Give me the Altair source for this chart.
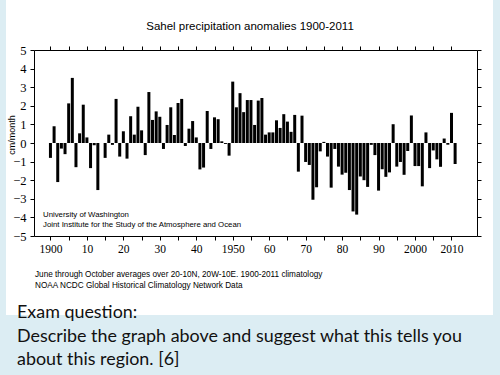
import altair as alt
import pandas as pd

years = list(range(1900, 2012))
anomalies = [
    -0.8, 0.9, -2.1, -0.3, -0.6, 2.13, 3.5, -1.3, 0.52, 2.06,
    0.3, -1.35, -0.12, -2.53, 0.0, -0.8, 0.45, -0.1, 2.37, -0.73,
    0.63, -0.84, 1.44, 0.45, 1.95, 0.68, -0.65, 2.74, 1.24, 1.7,
    1.41, -0.32, 0.97, 1.92, 0.43, 2.15, 2.37, -0.16, 0.77, 1.18,
    0.3, -1.42, -1.32, 1.72, -0.32, 1.38, 1.28, 0.09, -0.05, -0.68,
    3.3, 1.92, 2.68, 1.66, 2.31, 2.31, 0.97, 2.28, 2.42, 0.45,
    0.57, 0.57, 1.22, 0.81, 1.55, 1.15, 0.6, 1.51, -1.54, 1.47,
    -1.02, -1.18, -3.05, -2.38, -0.45, 0.06, -0.73, -2.4, -0.32, -1.27,
    -1.7, -1.6, -2.53, -3.68, -3.85, -1.8, -2.0, -2.36, -0.1, -0.65,
    -2.56, -1.41, -1.82, -1.58, 1.01, -1.27, -1.02, -1.71, -0.43, 1.48,
    -1.24, -1.24, -2.33, 0.57, -1.35, -0.4, -0.88, -1.28, 0.24, -0.09,
    1.62, -1.13,
]
x_ticks = list(range(1900, 2011, 5))
y_ticks = list(range(-5, 6))

title_text = "Sahel precipitation anomalies 1900-2011"
inner_notes = ["University of Washington",
               "Joint Institute for the Study of the Atmosphere and Ocean"]
footer_notes = ["June through October averages over 20-10N, 20W-10E. 1900-2011 climatology",
                "NOAA NCDC Global Historical Climatology Network Data"]
y_title = "cm/month"
exam_lines = ["Exam question:",
              "Describe the graph above and suggest what this tells you",
              "about this region. [6]"]

df = pd.DataFrame({"year": years, "anomaly": anomalies})

W, H = 443, 186
SERIF = "Liberation Serif"
SANS = "Liberation Sans"

xscale = alt.Scale(domain=[1896.86, 2015.63], nice=False, zero=False)
yscale = alt.Scale(domain=[-5, 5], nice=False)

label_expr = ("datum.value % 10 != 0 ? '' : (datum.value == 1900 || datum.value == 1950 || "
              "datum.value >= 2000 ? toString(datum.value) : toString(datum.value % 100))")

common = dict(grid=False, tickSize=4, domainColor="black", tickColor="black",
              domainWidth=1, tickWidth=1, zindex=1, title=None)

bars = alt.Chart(df).mark_bar(color="black", size=3).encode(
    x=alt.X("year:Q", scale=xscale,
            axis=alt.Axis(orient="bottom", values=x_ticks, labelExpr=label_expr,
                          labelPadding=3, labelFont=SERIF, labelFontSize=11.5,
                          labelColor="black", labelFlush=False, **common)),
    y=alt.Y("anomaly:Q", scale=yscale,
            axis=alt.Axis(orient="left", values=y_ticks, labelPadding=4,
                          labelFont=SERIF, labelFontSize=12.5, labelColor="black",
                          **common)),
)

frame_axes = alt.Chart(df).mark_bar(opacity=0, size=3).encode(
    x=alt.X("year:Q", scale=xscale,
            axis=alt.Axis(orient="top", values=x_ticks, labels=False, **common)),
    y=alt.Y("anomaly:Q", scale=yscale,
            axis=alt.Axis(orient="right", values=y_ticks, labels=False, **common)),
)

one = alt.Data(values=[{"a": 1}])

white_box = alt.Chart(one).mark_rect(color="white").encode(
    x=alt.value(-28), x2=alt.value(459), y=alt.value(-50), y2=alt.value(265)
)


def txt(text, x, y, size, font, align="left", baseline="middle", angle=0, color="black"):
    kw = dict(text=text, font=font, fontSize=size, align=align, baseline=baseline, color=color)
    if angle:
        kw["angle"] = angle
    return alt.Chart(one).mark_text(**kw).encode(x=alt.value(x), y=alt.value(y))


texts = [
    txt(title_text, 216, -20, 11.5, SANS, align="center", baseline="alphabetic"),
    txt(inner_notes[0], 9, 165, 7.8, SANS),
    txt(inner_notes[1], 9, 175, 7.8, SANS),
    txt(footer_notes[0], 1, 225, 8.2, SANS),
    txt(footer_notes[1], 1, 236, 8.2, SANS),
    txt(y_title, -22, 85, 9, SANS, align="center", angle=270),
    txt(exam_lines[0], -17, 268, 17.9, "Lato", baseline="alphabetic", color="#111111"),
    txt(exam_lines[1], -17, 291.5, 17.9, "Lato", baseline="alphabetic", color="#111111"),
    txt(exam_lines[2], -17, 315, 17.9, "Lato", baseline="alphabetic", color="#111111"),
]

chart = alt.layer(white_box, frame_axes, bars, *texts).resolve_axis(
    x="independent", y="independent"
).properties(
    width=W, height=H,
    autosize=alt.AutoSizeParams(type="none"),
    padding={"left": 34, "top": 50, "right": 23, "bottom": 139},
    background="#dcedf3",
).configure_view(stroke=None)

chart.save("out.html", embed_options={"renderer": "svg", "actions": False})
